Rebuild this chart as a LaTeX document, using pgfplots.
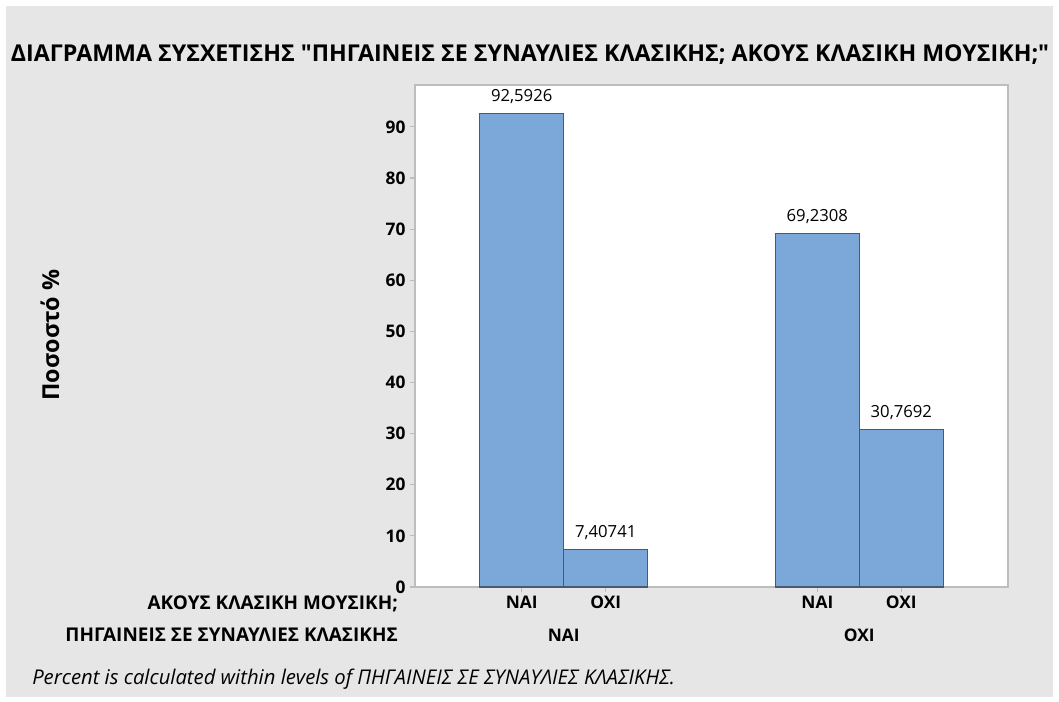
\documentclass[border=0pt]{standalone}
\usepackage{pgfplots}
\pgfplotsset{compat=1.18}
\usepackage{fontspec}
\setmainfont{Open Sans}
\newcommand\dq{\XeTeXglyph\XeTeXcharglyph"22\relax}
\definecolor{bg}{HTML}{E6E6E6}
\definecolor{barfill}{HTML}{7BA7D9}
\definecolor{baredge}{HTML}{4A5A6E}
\definecolor{frame}{HTML}{BDBDBD}
\begin{document}
\begin{tikzpicture}
\begin{scope}[x=0.75pt,y=-0.75pt]
\fill[white] (0,0) rectangle (1059,702);
\fill[bg] (6,6) rectangle (1053,697);
\node[font=\bfseries\fontsize{17.4}{20}\selectfont, anchor=center] at (530,55) {ΔΙΑΓΡΑΜΜΑ ΣΥΣΧΕΤΙΣΗΣ \dq ΠΗΓΑΙΝΕΙΣ ΣΕ ΣΥΝΑΥΛΙΕΣ ΚΛΑΣΙΚΗΣ; ΑΚΟΥΣ ΚΛΑΣΙΚΗ ΜΟΥΣΙΚΗ;\dq};
\node[font=\bfseries\fontsize{17.5}{20}\selectfont, rotate=90] at (50,335) {Ποσοστό \%};
\node[font=\bfseries\fontsize{14.2}{17}\selectfont, anchor=east, inner sep=0pt] at (398,604) {ΑΚΟΥΣ ΚΛΑΣΙΚΗ ΜΟΥΣΙΚΗ;};
\node[font=\bfseries\fontsize{14.2}{17}\selectfont, anchor=east, inner sep=0pt] at (398,635) {ΠΗΓΑΙΝΕΙΣ ΣΕ ΣΥΝΑΥΛΙΕΣ ΚΛΑΣΙΚΗΣ};
\node[font=\itshape\fontsize{15.2}{17}\selectfont, anchor=base west, inner sep=0pt] at (32,684) {Percent is calculated within levels of ΠΗΓΑΙΝΕΙΣ ΣΕ ΣΥΝΑΥΛΙΕΣ ΚΛΑΣΙΚΗΣ.};
\end{scope}
\begin{axis}[
  at={(311.25pt,-440.25pt)}, anchor=south west,
  scale only axis, width=444.75pt, height=376.5pt,
  xmin=-1.27, xmax=5.79, ymin=0, ymax=98.2,
  axis background/.style={fill=white},
  axis line style={frame, line width=1pt},
  tick style={frame, line width=0.8pt},
  major tick length=4pt,
  tick align=outside, tick pos=left,
  ytick={0,10,...,90},
  xtick={0,1,3.52,4.52},
  xticklabels={NAI,OXI,NAI,OXI},
  /pgf/number format/assume math mode=true,
  ticklabel style={font=\bfseries\fontsize{13}{15}\selectfont, text=black},
  yticklabel style={inner sep=0pt, xshift=-3pt},
  xticklabel style={yshift=1pt},
  clip=false,
]
\addplot[ybar, bar width=1, bar shift=0pt, fill=barfill, draw=baredge, line width=0.8pt,
  nodes near coords, point meta=explicit symbolic,
  every node near coord/.style={font=\fontsize{12.5}{14}\selectfont, text=black, anchor=south, yshift=3.5pt}]
  coordinates {(0,92.5926) [92{,}5926] (1,7.40741) [7{,}40741] (3.52,69.2308) [69{,}2308] (4.52,30.7692) [30{,}7692]};
\node[font=\bfseries\fontsize{13}{15}\selectfont] at (axis cs:0.5,0) [yshift=-36.5pt] {NAI};
\node[font=\bfseries\fontsize{13}{15}\selectfont] at (axis cs:4.02,0) [yshift=-36.5pt] {OXI};
\end{axis}
\end{tikzpicture}
\end{document}
